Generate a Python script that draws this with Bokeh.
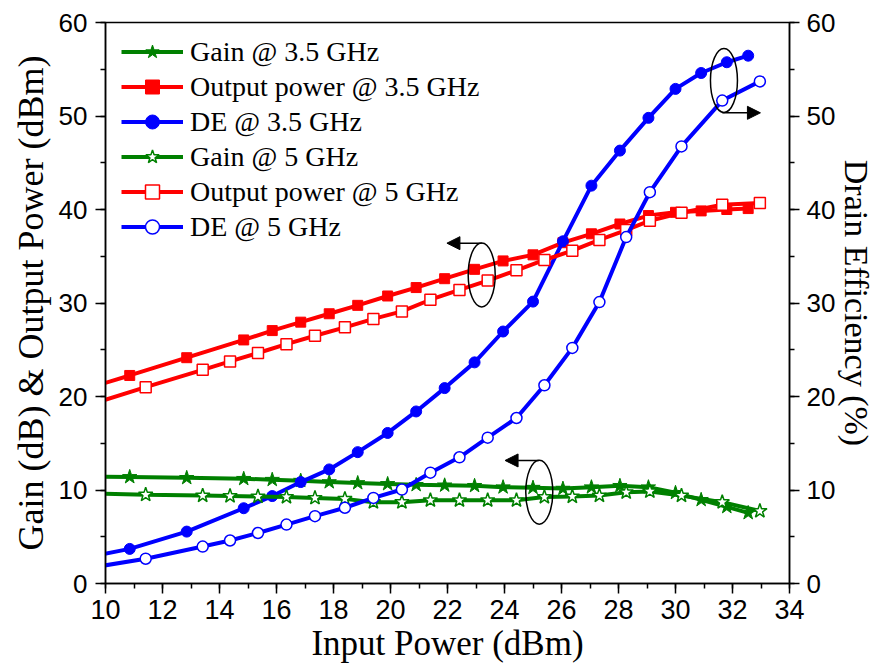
from bokeh.plotting import figure
from bokeh.models import (Range1d, LinearAxis, SingleIntervalTicker, Legend, LegendItem,
                          Arrow, NormalHead, Title)
from bokeh.embed import file_html
from bokeh.resources import INLINE

# ---------------- data ----------------
x_35 = [8.85, 10.85, 12.85, 14.85, 15.85, 16.85, 17.85, 18.85, 19.9, 20.9, 21.9,
        22.95, 23.95, 25.0, 26.05, 27.05, 28.05, 29.05, 30.0, 30.9, 31.8, 32.55]
gain_35 = [11.45, 11.4, 11.3, 11.2, 11.1, 11.0, 10.85, 10.75, 10.65, 10.55, 10.5,
           10.45, 10.3, 10.25, 10.15, 10.3, 10.45, 10.3, 9.7, 8.95, 8.2, 7.55]
pout_35 = [20.4, 22.25, 24.15, 26.05, 27.05, 27.95, 28.85, 29.75, 30.75, 31.65, 32.6,
           33.6, 34.5, 35.15, 36.45, 37.4, 38.45, 39.35, 39.7, 39.85, 40.0, 40.1]
de_35 = [2.5, 3.7, 5.55, 8.05, 9.35, 10.85, 12.2, 14.05, 16.1, 18.4, 20.9,
         23.65, 26.95, 30.15, 36.6, 42.55, 46.3, 49.8, 52.9, 54.6, 55.75, 56.45]

x_5 = [9.41, 11.41, 13.41, 14.37, 15.35, 16.35, 17.35, 18.4, 19.4, 20.4, 21.4,
       22.42, 23.41, 24.42, 25.4, 26.38, 27.33, 28.27, 29.1, 30.21, 31.64, 32.96]
gain_5 = [9.65, 9.5, 9.4, 9.35, 9.3, 9.25, 9.15, 9.05, 8.7, 8.7, 8.9,
          8.9, 8.9, 8.9, 9.25, 9.3, 9.4, 9.75, 9.85, 9.4, 8.7, 7.75]
pout_5 = [19.1, 21.0, 22.85, 23.75, 24.65, 25.6, 26.5, 27.4, 28.3, 29.1, 30.35,
          31.4, 32.4, 33.5, 34.6, 35.6, 36.75, 37.8, 38.8, 39.65, 40.5, 40.7]
de_5 = [1.65, 2.65, 3.95, 4.6, 5.4, 6.3, 7.2, 8.1, 9.15, 10.05, 11.85,
        13.5, 15.6, 17.7, 21.2, 25.2, 30.1, 37.05, 41.85, 46.75, 51.65, 53.7]

labels = ["Gain @ 3.5 GHz", "Output power @ 3.5 GHz", "DE @ 3.5 GHz",
          "Gain @ 5 GHz", "Output power @ 5 GHz", "DE @ 5 GHz"]
x_title = "Input Power (dBm)"
y_title = "Gain (dB) & Output Power (dBm)"
y2_title = "Drain Efficiency (%)"

GREEN, RED, BLUE = "#008000", "#FF0000", "#0000FF"
SERIF = "Times New Roman"
SANS = "Liberation Sans"

p = figure(frame_width=684, frame_height=561, x_range=Range1d(10, 34), y_range=Range1d(0, 60),
           output_backend="svg", toolbar_location=None,
           min_border_left=105, min_border_right=86, min_border_top=22, min_border_bottom=83)
p.extra_y_ranges = {"de": Range1d(0, 60)}
p.xgrid.visible = False
p.ygrid.visible = False
p.outline_line_color = "black"
p.outline_line_width = 1.5
p.background_fill_color = "white"
p.border_fill_color = "white"

def style_axis(ax, tick_font, tick_size):
    ax.axis_line_width = 1.5
    ax.axis_line_color = "black"
    ax.major_tick_line_width = 1.5
    ax.minor_tick_line_width = 1.5
    ax.major_tick_line_color = "black"
    ax.minor_tick_line_color = "black"
    ax.major_tick_out = 10
    ax.major_tick_in = 0
    ax.minor_tick_out = 5
    ax.minor_tick_in = 0
    ax.major_label_text_font = tick_font
    ax.major_label_text_font_size = tick_size
    ax.major_label_text_color = "black"
    ax.axis_label_text_font = SERIF
    ax.axis_label_text_font_style = "normal"
    ax.axis_label_text_font_size = "35px"
    ax.axis_label_text_color = "black"

xa = p.xaxis[0]
xa.ticker = SingleIntervalTicker(interval=2, num_minor_ticks=2)
xa.axis_label = x_title
style_axis(xa, SANS, "27px")
xa.major_label_standoff = 6
xa.axis_label_standoff = 2

ya = p.yaxis[0]
ya.ticker = SingleIntervalTicker(interval=10, num_minor_ticks=2)
style_axis(ya, SANS, "26px")
ya.major_label_standoff = 8

ra = LinearAxis(y_range_name="de", ticker=SingleIntervalTicker(interval=10, num_minor_ticks=2),
                axis_label=y2_title)
style_axis(ra, SANS, "26px")
ra.axis_label_text_font_size = "34px"
ra.major_label_standoff = 7
ra.axis_label_standoff = 0
p.add_layout(ra, "right")

# left axis title
p.add_layout(Title(text=y_title, align="center",
                   text_font=SERIF, text_font_size="36px", text_font_style="normal",
                   text_color="black"), "left")

items = []

def series(xs, ys, color, marker, filled, size, label, rng="default"):
    ln = p.line(xs, ys, line_color=color, line_width=4, y_range_name=rng)
    if filled:
        sc = p.scatter(xs, ys, marker=marker, size=size, fill_color=color, line_color=color,
                       line_width=1, y_range_name=rng)
    else:
        sc = p.scatter(xs, ys, marker=marker, size=size, fill_color="white", line_color=color,
                       line_width=1.5, y_range_name=rng)
    items.append(LegendItem(label=label, renderers=[ln, sc]))

series(x_35, gain_35, GREEN, "star", True, 15, labels[0])
series(x_35, pout_35, RED, "square", True, 10, labels[1])
series(x_35, de_35, BLUE, "circle", True, 11, labels[2], "de")
series(x_5, gain_5, GREEN, "star", False, 15, labels[3])
series(x_5, pout_5, RED, "square", False, 11, labels[4])
series(x_5, de_5, BLUE, "circle", False, 11, labels[5], "de")

# annotation ellipses and arrows
p.ellipse(x=[31.70, 23.20, 25.22], y=[53.8, 33.0, 9.77], width=27, height=64,
          width_units="screen", height_units="screen",
          fill_color=None, line_color="black", line_width=1.5)
for xs, ys, xe, ye in [(31.64, 50.34, 32.98, 50.34), (23.2, 36.4, 21.98, 36.4),
                       (25.2, 13.16, 24.02, 13.16)]:
    p.add_layout(Arrow(end=NormalHead(size=13, fill_color="black", line_color="black", line_width=1),
                       x_start=xs, y_start=ys, x_end=xe, y_end=ye,
                       line_color="black", line_width=1.5))

legend = Legend(items=items, location=(16, 339), orientation="vertical")
legend.label_text_font = SERIF
legend.label_text_font_size = "28px"
legend.label_text_color = "black"
legend.glyph_width = 62
legend.glyph_height = 35
legend.label_height = 35
legend.label_standoff = 7
legend.spacing = 0
legend.padding = 10
legend.margin = 0
legend.border_line_color = None
legend.background_fill_alpha = 0
p.add_layout(legend)

open("out.html", "w").write(file_html(p, INLINE))
